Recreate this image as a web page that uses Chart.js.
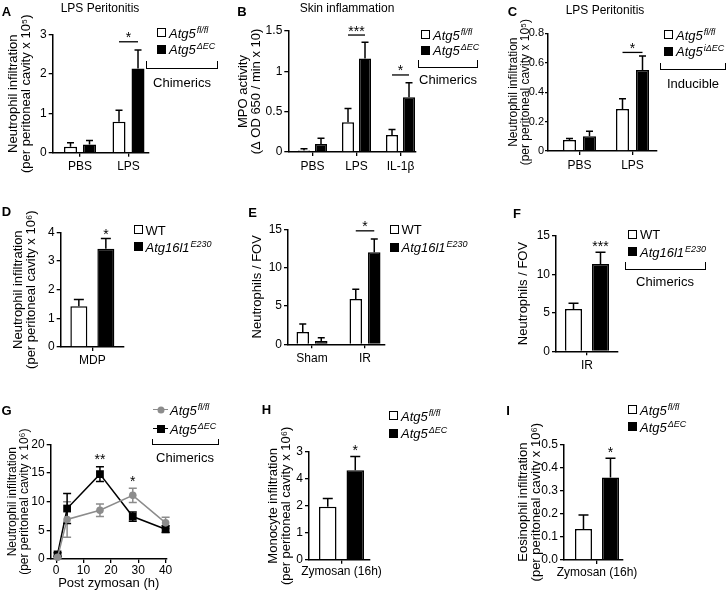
<!DOCTYPE html>
<html>
<head>
<meta charset="utf-8">
<title>Atg5 endothelial deletion - neutrophil infiltration</title>
<script src="https://cdn.jsdelivr.net/npm/chart.js@4.4.1/dist/chart.umd.min.js"></script>
<style>
  body { margin: 0; background: #fff; }
  #fig { position: relative; width: 727px; height: 592px; overflow: hidden;
         font-family: "Liberation Sans", Arial, Helvetica, sans-serif; color: #000; }
  #fig canvas { position: absolute; }
  .txt { position: absolute; white-space: nowrap; line-height: 1; transform: translate(-50%, -50%); }
  .letter { font-weight: bold; font-size: 13px; }
  .head { font-size: 12px; }
  .note { font-size: 13px; }
  .key { position: absolute; white-space: nowrap; line-height: 1; font-size: 13px; transform: translateY(-50%); }
  .key sup { font-size: 9px; position: relative; top: -0.55em; vertical-align: baseline; margin-left: 1px; }
  .sq { position: absolute; width: 9px; height: 9px; box-sizing: border-box; border: 1.3px solid #000; }
  .brk { position: absolute; box-sizing: border-box; border: 1.3px solid #000; border-top: 0; }
  .seg { position: absolute; height: 0; border-top: 1.5px solid; }
  .dot { position: absolute; transform: translate(-50%, -50%); }
</style>
</head>
<body>
<div id="fig"></div>
<script>
// series names [gene, superscript]
const floxName = ['Atg5', 'fl/fl'];
const ecName = ['Atg5', 'ΔEC'];
const iecName = ['Atg5', 'iΔEC'];
const wtName = ['WT', ''];
const e230Name = ['Atg16l1', 'E230'];

// A - LPS peritonitis, chimerics
const aCats = ['PBS', 'LPS'];
const aFlox = [0.15, 0.79];
const aFloxErr = [0.10, 0.29];
const aEc = [0.21, 2.14];
const aEcErr = [0.10, 0.47];
const aTicks = [0, 1, 2, 3];
const aTickLabels = ['0', '1', '2', '3'];

// B - skin inflammation (MPO)
const bCats = ['PBS', 'LPS', 'IL-1β'];
const bFlox = [0.02, 0.37, 0.21];
const bFloxErr = [0.02, 0.17, 0.07];
const bEc = [0.10, 1.16, 0.68];
const bEcErr = [0.07, 0.20, 0.18];
const bTicks = [0, 0.5, 1, 1.5];
const bTickLabels = ['0', '0.5', '1', '1.5'];

// C - LPS peritonitis, inducible
const cCats = ['PBS', 'LPS'];
const cFlox = [0.075, 0.285];
const cFloxErr = [0.01, 0.07];
const cIec = [0.10, 0.55];
const cIecErr = [0.035, 0.095];
const cTicks = [0, 0.2, 0.4, 0.6, 0.8];
const cTickLabels = ['0', '0.2', '0.4', '0.6', '0.8'];

// D - MDP
const dCats = ['MDP'];
const dWt = [1.42];
const dWtErr = [0.24];
const dE230 = [3.43];
const dE230Err = [0.35];
const dTicks = [0, 1, 2, 3, 4];
const dTickLabels = ['0', '1', '2', '3', '4'];

// E - sham / IR
const eCats = ['Sham', 'IR'];
const eWt = [1.6, 5.9];
const eWtErr = [1.05, 1.27];
const eE230 = [0.43, 12.0];
const eE230Err = [0.44, 1.74];
const eTicks = [0, 5, 10, 15];
const eTickLabels = ['0', '5', '10', '15'];

// F - IR, chimerics
const fCats = ['IR'];
const fWt = [5.49];
const fWtErr = [0.74];
const fE230 = [11.33];
const fE230Err = [1.51];
const fTicks = [0, 5, 10, 15];
const fTickLabels = ['0', '5', '10', '15'];

// G - zymosan time course
const gHours = [0.5, 4, 16, 28, 40];
const gFlox = [0.3, 6.9, 8.5, 11.1, 6.3];
const gFloxErr = [0.2, 3.1, 1.1, 1.25, 1.0];
const gEc = [0.8, 8.8, 14.8, 7.4, 5.2];
const gEcErr = [0.3, 2.6, 1.3, 0.8, 0.6];
const gXTicks = [0, 10, 20, 30, 40];
const gXTickLabels = ['0', '10', '20', '30', '40'];
const gYTicks = [0, 5, 10, 15, 20];
const gYTickLabels = ['0', '5', '10', '15', '20'];

// H - monocytes
const hCats = ['Zymosan (16h)'];
const hFlox = [1.97];
const hFloxErr = [0.30];
const hEc = [3.32];
const hEcErr = [0.51];
const hTicks = [0, 1, 2, 3, 4];
const hTickLabels = ['0', '1', '2', '4', '3'];

// I - eosinophils
const iCats = ['Zymosan (16h)'];
const iFlox = [0.134];
const iFloxErr = [0.061];
const iEc = [0.356];
const iEcErr = [0.084];
const iTicks = [0, 0.1, 0.2, 0.3, 0.4, 0.5];
const iTickLabels = ['0.0', '0.1', '0.2', '0.3', '0.4', '0.5'];

const FONT = '"Liberation Sans", Arial, Helvetica, sans-serif';
const GRAY = '#8c8c8c';
const fig = document.getElementById('fig');

Chart.defaults.font.family = FONT;
Chart.defaults.font.size = 12;
Chart.defaults.color = '#000';
Chart.defaults.animation = false;
Chart.defaults.plugins.legend.display = false;
Chart.defaults.plugins.tooltip.enabled = false;

// error bars, upper only for bars, both sides for the time course
const errorBars = {
  id: 'errorBars',
  beforeDatasetsDraw(chart) {
    const ctx = chart.ctx;
    const y = chart.scales.y;
    chart.data.datasets.forEach((ds, di) => {
      if (!ds.errors) return;
      const pts = chart.getDatasetMeta(di).data;
      ctx.save();
      ctx.strokeStyle = ds.errorColor || '#000';
      ctx.lineWidth = 1.5;
      pts.forEach((el, i) => {
        const v = ds.data[i].y, e = ds.errors[i];
        const hi = y.getPixelForValue(v + e);
        const lo = ds.twoSided ? y.getPixelForValue(v - e) : el.y;
        const w = (ds.capWidth || 7) / 2;
        ctx.beginPath();
        ctx.moveTo(el.x, lo); ctx.lineTo(el.x, hi);
        ctx.moveTo(el.x - w, hi); ctx.lineTo(el.x + w, hi);
        if (ds.twoSided) { ctx.moveTo(el.x - w, lo); ctx.lineTo(el.x + w, lo); }
        ctx.stroke();
      });
      ctx.restore();
    });
  }
};

// significance stars and lines
const sigMarks = {
  id: 'marks',
  afterDatasetsDraw(chart, args, opts) {
    const ctx = chart.ctx, y = chart.scales.y, x = chart.scales.x;
    ctx.save();
    ctx.fillStyle = '#000'; ctx.strokeStyle = '#000'; ctx.lineWidth = 1.3;
    ctx.font = '14px ' + FONT;
    ctx.textAlign = 'center'; ctx.textBaseline = 'alphabetic';
    (opts.list || []).forEach(m => {
      const py = y.getPixelForValue(m.y);
      if (m.line) {
        const a = chart.getDatasetMeta(0).data[m.i].x;
        const b = chart.getDatasetMeta(1).data[m.i].x;
        ctx.beginPath(); ctx.moveTo(a, py); ctx.lineTo(b, py); ctx.stroke();
        ctx.fillText(m.text, (a + b) / 2, py + 0.5);
      } else {
        const px = m.i !== undefined ? chart.getDatasetMeta(1).data[m.i].x : x.getPixelForValue(m.x);
        ctx.fillText(m.text, px, py);
      }
    });
    ctx.restore();
  }
};

function addCanvas(box) {
  const c = document.createElement('canvas');
  c.width = box[2]; c.height = box[3];
  c.style.left = box[0] + 'px'; c.style.top = box[1] + 'px';
  c.style.width = box[2] + 'px'; c.style.height = box[3] + 'px';
  fig.appendChild(c);
  return c;
}

function fixedTicks(values) {
  return scale => { scale.ticks = values.map(v => ({ value: v })); };
}

function axisStyle(tickLen) {
  return {
    grid: { drawOnChartArea: false, drawTicks: true, tickLength: tickLen, color: '#000', lineWidth: 1.3, offset: false },
    border: { display: true, color: '#000', width: 1.5 }
  };
}

// p.L/T/R/B is the plot frame on the page; the scales are sized to land on it
function buildChart(box, p, type, datasets) {
  const lh = p.titleSize || 13;
  const scaleLeft = p.titleX - lh / 2;
  const yWidth = p.L - scaleLeft;
  const xBottom = p.xTitleY ? p.xTitleY + 13 / 2 : p.B + 25;
  const xHeight = xBottom - p.B;
  return new Chart(addCanvas(box), {
    type: type,
    data: { datasets: datasets },
    options: {
      responsive: false,
      devicePixelRatio: 1,
      layout: { padding: { left: scaleLeft - box[0], top: p.T - box[1], right: box[0] + box[2] - p.R, bottom: box[1] + box[3] - xBottom } },
      scales: {
        x: {
          type: 'linear', offset: false, min: p.xmin, max: p.xmax,
          afterBuildTicks: fixedTicks(p.xTicks),
          afterFit: s => { s.height = xHeight; },
          ticks: { callback: (v, i) => p.xLabels[i], padding: p.xPad, maxRotation: 0, autoSkip: false },
          title: p.xTitle ? { display: true, text: p.xTitle, padding: 0, font: { size: 13, lineHeight: 1 } } : { display: false },
          ...axisStyle(4)
        },
        y: {
          min: 0, max: p.ymax,
          afterBuildTicks: fixedTicks(p.yTicks),
          afterFit: s => { s.width = yWidth; },
          ticks: { callback: (v, i) => p.yLabels[i], padding: p.yPad !== undefined ? p.yPad : 2, font: { size: p.tickSize || 12 } },
          title: { display: true, text: p.yTitle, padding: 0, font: { size: lh, lineHeight: 1 } },
          ...axisStyle(p.yTickLen || 4)
        }
      },
      plugins: { marks: { list: p.marks || [] } }
    },
    plugins: [errorBars, sigMarks]
  });
}

function barChart(box, p) {
  p.xTicks = p.cats.map((c, i) => i);
  p.xLabels = p.cats;
  const span = p.cats.length > 1 ? (p.R - p.L) / (p.xmax - p.xmin) : (p.R - p.L);
  const chunk = p.barW + p.gap;
  const datasets = p.series.map(s => ({
    label: s.label,
    data: s.values.map((v, i) => ({ x: i, y: v })),
    errors: s.errors,
    backgroundColor: s.fill,
    borderColor: '#000',
    borderWidth: 1.5,
    categoryPercentage: 2 * chunk / span,
    barPercentage: p.barW / chunk,
    capWidth: p.cap
  }));
  return buildChart(box, p, 'bar', datasets);
}

function lineChart(box, p) {
  const datasets = p.series.map(s => ({
    label: s.label,
    data: p.xs.map((h, i) => ({ x: h, y: s.values[i] })),
    errors: s.errors, twoSided: true, errorColor: s.color, capWidth: 8,
    borderColor: s.color, backgroundColor: s.color, borderWidth: 1.5,
    pointStyle: s.marker, pointRadius: s.radius, pointBorderWidth: 0,
    pointBackgroundColor: s.color, tension: 0, clip: false
  }));
  return buildChart(box, p, 'line', datasets);
}

const nameText = n => n[1] ? n[0] + ' ' + n[1] : n[0];
const whiteBar = (n, v, e) => ({ label: nameText(n), values: v, errors: e, fill: '#fff' });
const blackBar = (n, v, e) => ({ label: nameText(n), values: v, errors: e, fill: '#000' });

barChart([0, 0, 235, 190], {
  L: 52.7, T: 34.7, R: 148.3, B: 152.7, titleX: 13, xmin: -0.563, xmax: 1.408, xPad: 3,
  cats: aCats, ymax: 3, yTicks: aTicks, yLabels: aTickLabels,
  yTitle: ['Neutrophil infiltration', '(per peritoneal cavity x 10⁵)'],
  barW: 13, gap: 6, cap: 7,
  series: [whiteBar(floxName, aFlox, aFloxErr), blackBar(ecName, aEc, aEcErr)],
  marks: [{ i: 1, y: 2.82, text: '*', line: true }]
});

barChart([235, 0, 245, 190], {
  L: 288.3, T: 31, R: 416, B: 152, titleX: 243.5, xmin: -0.55, xmax: 2.352, xPad: 3,
  cats: bCats, ymax: 1.5, yTicks: bTicks, yLabels: bTickLabels,
  yTitle: ['MPO activity', '(Δ OD 650 / min x 10)'],
  barW: 12, gap: 5, cap: 7,
  series: [whiteBar(floxName, bFlox, bFloxErr), blackBar(ecName, bEc, bEcErr)],
  marks: [{ i: 1, y: 1.45, text: '***', line: true }, { i: 2, y: 0.955, text: '*', line: true }]
});

barChart([480, 0, 247, 190], {
  L: 548, T: 33.3, R: 657, B: 151, titleX: 514, titleSize: 12, tickSize: 11, yTickLen: 3, yPad: 1,
  xmin: -0.594, xmax: 1.462, xPad: 3,
  cats: cCats, ymax: 0.8, yTicks: cTicks, yLabels: cTickLabels,
  yTitle: ['Neutrophil infiltration', '(per peritoneal cavity x 10⁵)'],
  barW: 13, gap: 7, cap: 7,
  series: [whiteBar(floxName, cFlox, cFloxErr), blackBar(iecName, cIec, cIecErr)],
  marks: [{ i: 1, y: 0.67, text: '*', line: true }]
});

barChart([0, 190, 235, 200], {
  L: 60.7, T: 232.3, R: 124, B: 347, titleX: 18.5, xmin: -1, xmax: 1, xPad: 2,
  cats: dCats, ymax: 4, yTicks: dTicks, yLabels: dTickLabels,
  yTitle: ['Neutrophil infiltration', '(per peritoneal cavity x 10⁶)'],
  barW: 17, gap: 10, cap: 10,
  series: [whiteBar(wtName, dWt, dWtErr), blackBar(e230Name, dE230, dE230Err)],
  marks: [{ i: 0, y: 3.75, text: '*' }]
});

barChart([235, 190, 245, 200], {
  L: 288, T: 229.3, R: 385, B: 344.3, titleX: 257, xmin: -0.453, xmax: 1.377, xPad: 3,
  cats: eCats, ymax: 15, yTicks: eTicks, yLabels: eTickLabels,
  yTitle: 'Neutrophils / FOV',
  barW: 12.5, gap: 6, cap: 7,
  series: [whiteBar(wtName, eWt, eWtErr), blackBar(e230Name, eE230, eE230Err)],
  marks: [{ i: 1, y: 14.8, text: '*', line: true }]
});

barChart([480, 190, 247, 200], {
  L: 556, T: 235.7, R: 618, B: 351.3, titleX: 523, xmin: -1, xmax: 1, xPad: 3,
  cats: fCats, ymax: 15, yTicks: fTicks, yLabels: fTickLabels,
  yTitle: 'Neutrophils / FOV',
  barW: 17, gap: 10, cap: 10,
  series: [whiteBar(wtName, fWt, fWtErr), blackBar(e230Name, fE230, fE230Err)],
  marks: [{ i: 0, y: 13.0, text: '***' }]
});

lineChart([0, 390, 235, 202], {
  L: 50.7, T: 444.3, R: 166.7, B: 559, titleX: 13, titleSize: 12, xmin: -2, xmax: 40.4, xPad: 0,
  xs: gHours, xTicks: gXTicks, xLabels: gXTickLabels,
  xTitle: 'Post zymosan (h)', xTitleY: 583,
  ymax: 20, yTicks: gYTicks, yLabels: gYTickLabels,
  yTitle: ['Neutrophil infiltration', '(per peritoneal cavity x 10⁶)'],
  series: [
    { label: nameText(floxName), values: gFlox, errors: gFloxErr, color: GRAY, marker: 'circle', radius: 3.8 },
    { label: nameText(ecName), values: gEc, errors: gEcErr, color: '#000', marker: 'rect', radius: 5.5 }
  ],
  marks: [{ x: 16, y: 16.5, text: '**' }, { x: 28, y: 12.65, text: '*' }]
});

barChart([235, 390, 245, 202], {
  L: 309, T: 452, R: 370, B: 559.7, titleX: 273, xmin: -1.066, xmax: 0.934, xPad: 1,
  cats: hCats, ymax: 4, yTicks: hTicks, yLabels: hTickLabels,
  yTitle: ['Monocyte infiltration', '(per peritoneal cavity x 10⁶)'],
  barW: 17.5, gap: 10, cap: 10,
  series: [whiteBar(floxName, hFlox, hFloxErr), blackBar(ecName, hEc, hEcErr)],
  marks: [{ i: 0, y: 3.9, text: '*' }]
});

barChart([480, 390, 247, 202], {
  L: 564, T: 444.3, R: 623, B: 560, titleX: 523.5, xmin: -1.118, xmax: 0.882, xPad: 1,
  cats: iCats, ymax: 0.5, yTicks: iTicks, yLabels: iTickLabels,
  yTitle: ['Eosinophil infiltration', '(per peritoneal cavity x 10⁶)'],
  barW: 17, gap: 10, cap: 10,
  series: [whiteBar(floxName, iFlox, iFloxErr), blackBar(ecName, iEc, iEcErr)],
  marks: [{ i: 0, y: 0.444, text: '*' }]
});

// ---- text around the plots ----
function txt(x, y, html, cls) {
  const d = document.createElement('div');
  d.className = 'txt ' + cls;
  d.style.left = x + 'px'; d.style.top = y + 'px';
  d.innerHTML = html;
  fig.appendChild(d);
}

function nameHtml(n) {
  if (!n[1]) return n[0];
  return '<i>' + n[0] + '<sup>' + n[1] + '</sup></i>';
}

function keyText(x, y, n) {
  const t = document.createElement('div');
  t.className = 'key';
  t.style.left = x + 'px'; t.style.top = y + 'px';
  t.innerHTML = nameHtml(n);
  fig.appendChild(t);
}

function key(x, y, fill, n) {
  const b = document.createElement('div');
  b.className = 'sq';
  b.style.left = x + 'px'; b.style.top = y + 'px'; b.style.background = fill;
  fig.appendChild(b);
  keyText(x + 12, y + 4.5, n);
}

function lineKey(x, y, color, round, n) {
  const s = document.createElement('div');
  s.className = 'seg';
  s.style.left = x + 'px'; s.style.top = (y - 0.75) + 'px'; s.style.width = '15px'; s.style.borderColor = color;
  fig.appendChild(s);
  const d = document.createElement('div');
  d.className = 'dot';
  d.style.left = (x + 8) + 'px'; d.style.top = y + 'px';
  d.style.width = round ? '7px' : '8px'; d.style.height = round ? '7px' : '8px';
  d.style.background = color; d.style.borderRadius = round ? '50%' : '0';
  fig.appendChild(d);
  keyText(x + 17, y, n);
}

function bracket(l, t, w, h) {
  const d = document.createElement('div');
  d.className = 'brk';
  d.style.left = l + 'px'; d.style.top = t + 'px'; d.style.width = w + 'px'; d.style.height = h + 'px';
  fig.appendChild(d);
}

[['A', 6.5, 11], ['B', 242, 11], ['C', 512.5, 11], ['D', 6.5, 210.5], ['E', 252.5, 211.5],
 ['F', 517, 213], ['G', 6.5, 410], ['H', 266.5, 409], ['I', 508, 409.5]]
  .forEach(l => txt(l[1], l[2], l[0], 'letter'));

txt(100, 8, 'LPS Peritonitis', 'head');
txt(347, 8, 'Skin inflammation', 'head');
txt(605, 10, 'LPS Peritonitis', 'head');

key(157, 28, '#fff', floxName); key(157, 44.5, '#000', ecName);
bracket(146, 61, 72, 8); txt(182, 82, 'Chimerics', 'note');

key(421, 30, '#fff', floxName); key(421, 45.5, '#000', ecName);
bracket(418, 60, 60, 8); txt(448, 79, 'Chimerics', 'note');

key(664, 30, '#fff', floxName); key(664, 46.5, '#000', iecName);
bracket(660, 63, 66, 7); txt(693, 83, 'Inducible', 'note');

key(133.5, 225, '#fff', wtName); key(133.5, 242, '#000', e230Name);

key(389.5, 224.5, '#fff', wtName); key(389.5, 242.5, '#000', e230Name);

key(628, 229.5, '#fff', wtName); key(628, 247, '#000', e230Name);
bracket(625, 262, 81, 7.5); txt(665, 281, 'Chimerics', 'note');

lineKey(153, 410, GRAY, true, floxName); lineKey(153, 428.5, '#000', false, ecName);
bracket(152, 439, 67, 6); txt(185, 457, 'Chimerics', 'note');

key(389, 411, '#fff', floxName); key(389, 428.5, '#000', ecName);

key(628, 405, '#fff', floxName); key(628, 422, '#000', ecName);
</script>
</body>
</html>
